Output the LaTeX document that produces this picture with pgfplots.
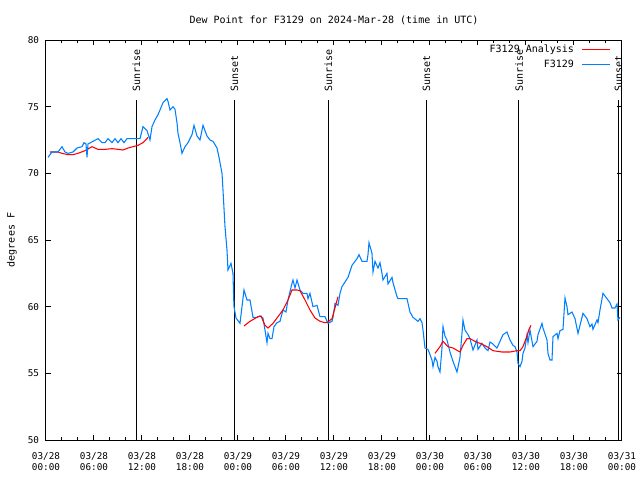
\documentclass[border=0pt]{standalone}
\usepackage{fontspec}
\setmainfont{DejaVu Sans Mono}
\usepackage{pgfplots}
\pgfplotsset{compat=1.18}
\definecolor{obsblue}{RGB}{0,128,255}
\definecolor{anared}{RGB}{255,0,0}
\pgfplotsset{
  legend image code/.code={\draw[#1] (0pt,0pt) -- (21pt,0pt);},
}
\begin{document}
\fontsize{7.5}{9}\selectfont
\begin{tikzpicture}
\path[use as bounding box] (-34.5pt,-30pt) rectangle (445.5pt,330pt);
\begin{axis}[
  at={(0,0)}, anchor=south west,
  scale only axis, width=432pt, height=300pt,
  xmin=0, xmax=72, ymin=50, ymax=80,
  xtick={0,6,...,72},
  xticklabels={03/28\\00:00,03/28\\06:00,03/28\\12:00,03/28\\18:00,03/29\\00:00,03/29\\06:00,03/29\\12:00,03/29\\18:00,03/30\\00:00,03/30\\06:00,03/30\\12:00,03/30\\18:00,03/31\\00:00},
  minor x tick num=2,
  ytick={50,55,...,80},
  tick align=inside,
  major tick length=3.75pt, minor tick length=2.25pt,
  tick style={black, line width=0.75pt},
  axis line style={line width=0.75pt},
  /pgf/number format/assume math mode=true,
  ticklabel style={font=\fontsize{7}{8.25}\selectfont},
  xticklabel style={align=center, yshift=-6.5pt},
  yticklabel style={xshift=-2.5pt},
  ylabel={degrees F},
  ylabel style={at={(axis description cs:-0.059,0.5)}, anchor=center, font=\fontsize{7.5}{9}\selectfont},
  title={Dew Point for F3129 on 2024-Mar-28 (time in UTC)},
  title style={at={(axis description cs:0.5,1)}, anchor=center, yshift=9pt, font=\fontsize{7.5}{9}\selectfont},
  legend cell align=right,
  legend plot pos=right,
  legend style={at={(axis description cs:1,1)}, anchor=north east, xshift=-5.25pt, yshift=0.5pt,
    draw=none, fill=none, font=\fontsize{7.5}{9}\selectfont, row sep=0.5pt, column sep=3.75pt},
  clip=false,
]
% Sunrise / Sunset markers
\addplot[black, line width=0.65pt, forget plot] coordinates {(11.25,50) (11.25,75.5)};
\addplot[black, line width=0.65pt, forget plot] coordinates {(23.5,50) (23.5,75.5)};
\addplot[black, line width=0.65pt, forget plot] coordinates {(35.25,50) (35.25,75.5)};
\addplot[black, line width=0.65pt, forget plot] coordinates {(47.5,50) (47.5,75.5)};
\addplot[black, line width=0.65pt, forget plot] coordinates {(59.1,50) (59.1,75.5)};
\addplot[black, line width=0.65pt, forget plot] coordinates {(71.5,50) (71.5,75.5)};
\node[rotate=90, anchor=west, inner sep=0pt] at (axis cs:11.3,76.1) {Sunrise};
\node[rotate=90, anchor=west, inner sep=0pt] at (axis cs:23.55,76.1) {Sunset};
\node[rotate=90, anchor=west, inner sep=0pt] at (axis cs:35.3,76.1) {Sunrise};
\node[rotate=90, anchor=west, inner sep=0pt] at (axis cs:47.55,76.1) {Sunset};
\node[rotate=90, anchor=west, inner sep=0pt] at (axis cs:59.15,76.1) {Sunrise};
\node[rotate=90, anchor=west, inner sep=0pt] at (axis cs:71.55,76.1) {Sunset};
% Analysis segment 1
\addplot[anared, line width=0.8pt] coordinates {
(0.5,71.6) (1.5,71.6) (2,71.5) (2.75,71.4) (3.375,71.4) (4,71.5) (4.875,71.7) (5.75,72.0)
(6.5,71.8) (7.375,71.8) (8.25,71.85) (9,71.8) (9.625,71.75) (10.25,71.9) (10.875,72.0)
(11.5,72.1) (12.125,72.3) (12.625,72.6) (12.75,72.7)};
\addlegendentry{F3129 Analysis}
% Observations
\addplot[obsblue, line width=0.8pt] coordinates {
(0.25,71.2) (0.75,71.6) (1.5,71.6) (2,72.0) (2.375,71.6) (2.75,71.5) (3.375,71.6) (3.875,71.9)
(4.5,72.0) (4.75,72.3) (5,72.2) (5.125,71.2) (5.25,72.2) (5.875,72.4) (6.5,72.6) (7,72.3)
(7.375,72.3) (7.75,72.6) (8.25,72.3) (8.625,72.6) (9,72.3) (9.375,72.6) (9.75,72.3) (10.125,72.6)
(10.5,72.6) (11.75,72.6) (12.125,73.5) (12.625,73.2) (13,72.5) (13.25,73.5) (13.625,74.0)
(14,74.4) (14.25,74.75) (14.625,75.3) (15.125,75.6) (15.25,75.4) (15.5,74.75) (15.875,75.0)
(16.125,74.8) (16.375,73.8) (16.5,73.0) (16.75,72.3) (17,71.5) (17.375,72.0) (17.75,72.3)
(18.25,72.9) (18.5,73.6) (18.875,72.8) (19.25,72.5) (19.625,73.6) (20.125,72.8) (20.5,72.5)
(20.875,72.4) (21.375,71.9) (21.625,71.2) (22,70.0) (22.125,68.75) (22.375,66.0) (22.625,64.25)
(22.75,62.75) (23.125,63.25) (23.375,62.5) (23.44,61.0) (23.5,60.0) (23.75,59.15) (24.25,58.75)
(24.5,60.0) (24.75,61.25) (25.125,60.5) (25.5,60.5) (25.875,59.2) (26.375,59.2) (26.75,59.3)
(27.125,59.15) (27.375,58.25) (27.625,57.3) (27.75,58.0) (28,57.6) (28.25,57.6) (28.5,58.5)
(28.875,58.8) (29.25,58.9) (29.625,59.75) (30,59.6) (30.25,60.5) (30.75,61.75) (30.875,62.0)
(31.125,61.4) (31.375,62.0) (31.75,61.25) (32.125,61.0) (32.625,61.0) (32.75,60.6) (33,61.0)
(33.375,60.0) (33.875,60.1) (34.25,59.25) (34.875,59.25) (35.25,58.75) (35.75,58.9) (35.875,59.2)
(36.125,60.25) (36.5,60.1) (36.75,61.0) (37,61.5) (37.375,61.85) (37.75,62.2) (38.25,63.1)
(38.875,63.6) (39.125,63.9) (39.5,63.4) (40.125,63.4) (40.25,63.9) (40.375,64.8) (40.75,64.0)
(40.875,62.6) (41.125,63.4) (41.5,62.9) (41.75,63.3) (42,62.5) (42.125,62.0) (42.625,62.5)
(42.75,61.7) (43.25,62.2) (43.375,61.8) (43.875,60.75) (44,60.6) (45.125,60.6) (45.5,59.6)
(45.875,59.2) (46.5,58.9) (46.75,59.1) (47,58.8) (47.125,58.25) (47.375,56.9) (47.75,56.8)
(48.25,56.0) (48.375,55.5) (48.625,56.2) (48.875,55.9) (49,55.5) (49.25,55.1) (49.5,56.9)
(49.625,58.5) (49.875,57.8) (50.125,57.5) (50.5,56.6) (50.875,55.9) (51.375,55.1) (51.75,56.2)
(52,58.0) (52.125,59.0) (52.375,58.25) (52.75,57.9) (53,57.6) (53.375,56.75) (53.875,57.5)
(54,56.8) (54.5,57.25) (54.875,56.9) (55.25,56.7) (55.5,57.35) (55.875,57.2) (56.375,56.9)
(56.75,57.4) (57.125,57.9) (57.625,58.1) (58,57.5) (58.375,57.1) (58.625,57.0) (58.875,56.6)
(59,55.75) (59.25,55.5) (59.5,55.9) (59.625,56.5) (59.875,56.9) (60.125,57.9) (60.25,57.3)
(60.5,58.25) (60.875,57.0) (61.375,57.4) (61.5,57.9) (62,58.75) (62.125,58.4) (62.625,57.5)
(62.75,56.5) (63,56.0) (63.25,56.0) (63.375,57.75) (63.875,58.0) (64,57.6) (64.25,58.2)
(64.625,58.3) (64.875,60.65) (65.125,60.0) (65.25,59.4) (65.75,59.6) (66.125,59.1) (66.5,58.0)
(67.125,59.5) (67.625,59.1) (68,58.5) (68.25,58.7) (68.375,58.3) (68.875,59.0) (69,58.8)
(69.25,59.75) (69.625,61.0) (70.125,60.6) (70.5,60.3) (70.75,59.9) (71.125,59.9) (71.375,60.2)
(71.5,59.0) (71.75,59.2)};
\addlegendentry{F3129}
% Analysis segment 2
\addplot[anared, line width=0.8pt, forget plot] coordinates {
(24.75,58.55) (25.5,58.9) (26.5,59.25) (26.875,59.3) (27.375,58.6) (27.75,58.4) (28.375,58.75)
(29,59.25) (29.625,59.75) (30.25,60.5) (30.75,61.25) (31.375,61.25) (31.75,61.2) (32.375,60.5)
(33,59.75) (33.625,59.15) (34.25,58.9) (34.875,58.8) (35.25,58.85) (35.75,59.1) (36.125,59.9)
(36.5,60.75)};
% Analysis segment 3
\addplot[anared, line width=0.8pt, forget plot] coordinates {
(48.625,56.5) (49.25,57.0) (49.625,57.4) (50.25,57.0) (50.875,56.9) (51.75,56.6) (52.125,57.1)
(52.625,57.6) (53,57.6) (53.625,57.4) (54.25,57.25) (55.125,57.0) (55.875,56.7) (57,56.6)
(58,56.6) (58.875,56.7) (59.25,56.7) (59.625,57.0) (60.125,57.8) (60.375,58.3) (60.625,58.6)};
\end{axis}
\end{tikzpicture}
\end{document}
